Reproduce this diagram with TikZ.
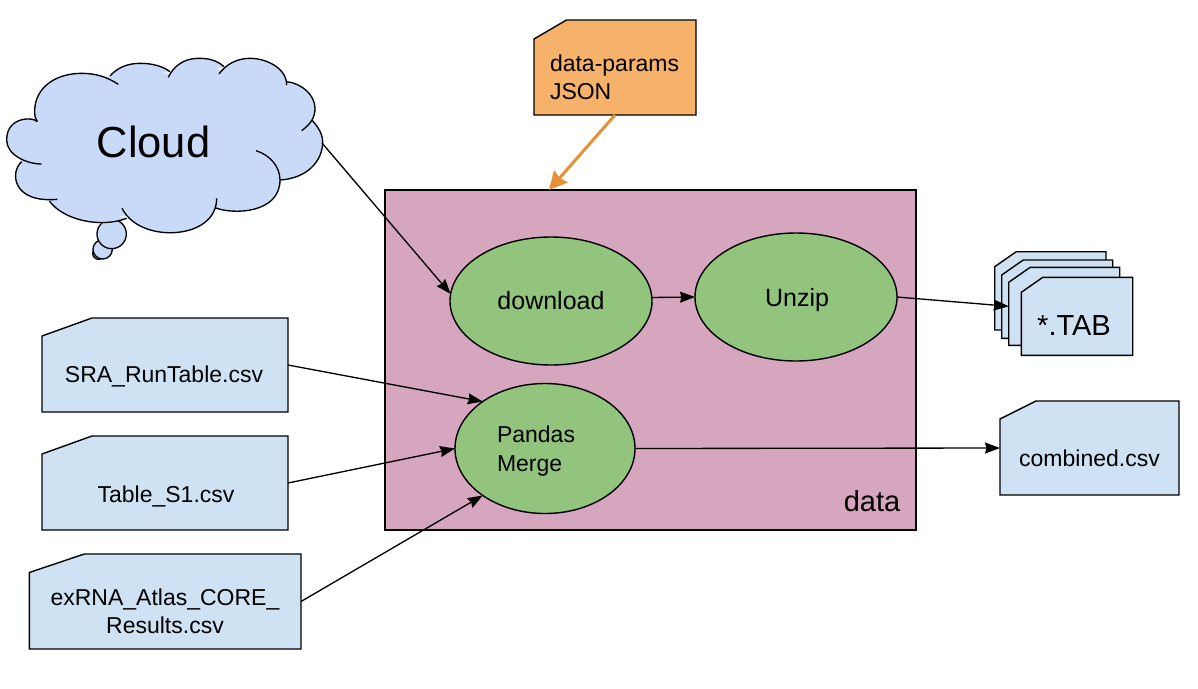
\documentclass[tikz,border=0pt]{standalone}
\usepackage{fontspec}
\setmainfont{Liberation Sans}
\usetikzlibrary{arrows.meta,shapes.geometric}
\definecolor{docblue}{HTML}{CFE2F3}
\definecolor{cloudblue}{HTML}{C9DAF8}
\definecolor{datapink}{HTML}{D5A6BD}
\definecolor{procgreen}{HTML}{93C47D}
\definecolor{paramorange}{HTML}{F6B26B}
\definecolor{arroworange}{HTML}{E69138}
\tikzset{
  outline/.style={draw=black,line width=1.4pt},
  flow/.style={draw=black,line width=1.33pt,-{Stealth[length=15pt,width=11pt,inset=1.5pt]}},
  paramflow/.style={draw=arroworange,line width=3pt,-{Stealth[length=18pt,width=18pt,inset=2pt]}},
  proc/.style={ellipse,outline,fill=procgreen,inner sep=0pt,outer sep=0pt},
  txt/.style={inner sep=0pt,outer sep=0pt,anchor=base,font=\fontsize{23}{28}\selectfont},
  boxanchor/.style={inner sep=0pt,outer sep=0pt,draw=none},
  cloudpatch/.style={fill=cloudblue,draw=cloudblue,line width=1pt}
}
% name x1 y1 x2 y2 cutx cuty fill
\newcommand{\docbox}[8]{%
  \filldraw[outline,fill=#8,line join=miter] (#2,#3+#7) -- (#2+#6,#3) -- (#4,#3) -- (#4,#5) -- (#2,#5) -- cycle;
  \node[boxanchor,minimum width=\dimexpr#4pt-#2pt\relax,minimum height=\dimexpr#5pt-#3pt\relax] (#1) at ({(#2+#4)/2},{(#3+#5)/2}) {};
}
\newcommand{\lobeFill}[1]{\filldraw[cloudpatch] #1 -- cycle;}
\newcommand{\lobeDraw}[1]{\draw[black,line width=1.33pt] #1;}
\newcommand{\cloudLobes}{%
  \lobeAct{(110,245) .. controls (108,232) and (20,225) .. (20,300) .. controls (20,345) and (80,372) .. (125,372)}%
  \lobeAct{(65,365) .. controls (30,395) and (35,490) .. (172,478)}%
  \lobeAct{(148,483) .. controls (190,540) and (300,565) .. (380,535)}%
  \lobeAct{(366,505) .. controls (400,570) and (480,580) .. (520,578) .. controls (590,575) and (650,540) .. (650,475)}%
  \lobeAct{(645,503) .. controls (700,525) and (840,520) .. (840,420) .. controls (840,380) and (810,345) .. (768,332)}%
  \lobeAct{(840,420) .. controls (920,415) and (968,365) .. (968,305) .. controls (968,280) and (950,255) .. (935,240)}%
  \lobeAct{(905,272) .. controls (935,250) and (945,230) .. (945,205) .. controls (945,165) and (905,130) .. (860,125)}%
  \lobeAct{(860,135) .. controls (860,85) and (800,55) .. (750,55) .. controls (715,55) and (680,70) .. (657,102)}%
  \lobeAct{(672,80) .. controls (650,60) and (625,55) .. (595,55) .. controls (550,55) and (520,80) .. (505,112)}%
  \lobeAct{(510,95) .. controls (490,80) and (460,70) .. (420,70) .. controls (380,70) and (350,85) .. (330,108)}%
  \lobeAct{(355,133) .. controls (320,110) and (285,100) .. (245,100) .. controls (160,100) and (95,150) .. (105,230) -- (112,245)}%
}
\begin{document}
\begin{tikzpicture}[x=1pt,y=-1pt]
\useasboundingbox (0,0) rectangle (1198,688);
\fill[white] (0,0) rectangle (1198,688);

% cloud
\begin{scope}[shift={(0,40)},x=0.33333pt,y=-0.33333pt]
  \filldraw[fill=cloudblue,draw=black,line width=1.33pt] (296,640) circle (18);
  \filldraw[fill=cloudblue,draw=black,line width=1.33pt] (308,628) circle (29);
  \filldraw[fill=cloudblue,draw=black,line width=1.33pt] (335,582) circle (44);
  \let\lobeAct\lobeFill \cloudLobes
  \filldraw[cloudpatch] (110,235) -- (40,300) -- (68,367) -- (70,440) -- (152,480) -- (260,530) -- (374,526) -- (500,560) -- (647,501) -- (780,490) -- (838,420) -- (930,340) -- (933,244) -- (910,170) -- (858,128) -- (760,70) -- (665,92) -- (590,70) -- (507,104) -- (420,85) -- (335,109) -- (200,125) -- cycle;
  \let\lobeAct\lobeDraw \cloudLobes
\end{scope}
\node[txt,font=\fontsize{43.5}{50}\selectfont] (cloudtext) at (153.5,157) {Cloud};
\coordinate (cloudport) at (322,143);

% container
\node[rectangle,outline,fill=datapink,inner sep=0pt,outer sep=0pt,minimum width=531pt,minimum height=340pt] (data) at (650.5,360) {};
\coordinate (dataport) at (549,190);
\node[txt,font=\fontsize{29}{34}\selectfont] (datalabel) at (872,511) {data};

% processes
\node[proc,minimum width=202pt,minimum height=128pt] (download) at (551,301) {};
\node[proc,minimum width=202pt,minimum height=128pt] (unzip) at (796,297) {};
\node[proc,minimum width=180pt,minimum height=130pt] (merge) at (545,448.5) {};
\node[txt,font=\fontsize{25}{30}\selectfont] (downloadtext) at (551,309) {download};
\node[txt,font=\fontsize{25}{30}\selectfont] (unziptext) at (797,306) {Unzip};
\node[txt,anchor=base west] (pandastext) at (497,442) {Pandas};
\node[txt,anchor=base west] (mergetext) at (497,471) {Merge};

% files
\docbox{params}{534}{20}{696}{115}{32.5}{19}{paramorange}
\node[txt,anchor=base west] (paramsa) at (550,71) {data-params};
\node[txt,anchor=base west] (paramsb) at (550,99) {JSON};
\docbox{sra}{42}{318}{288}{412}{50}{18}{docblue}
\node[txt] (sratext) at (164,382) {SRA\_RunTable.csv};
\docbox{tables}{42}{436}{288}{530}{50}{18}{docblue}
\node[txt] (tablestext) at (166,502) {Table\_S1.csv};
\docbox{exrna}{29.3}{554}{301}{649}{55}{18.5}{docblue}
\node[txt] (exrnaa) at (165,605) {exRNA\_Atlas\_CORE\_};
\node[txt] (exrnab) at (165,633) {Results.csv};
\docbox{combined}{1000}{401}{1179}{495}{36}{18}{docblue}
\node[txt] (combinedtext) at (1089.5,466) {combined.csv};
\docbox{taba}{994.7}{251.7}{1106}{330}{21.5}{15}{docblue}
\docbox{tabb}{1001.7}{260}{1112.7}{338.3}{21.5}{15}{docblue}
\docbox{tabc}{1008.7}{267.3}{1119.7}{345.3}{21.5}{15}{docblue}
\docbox{tabd}{1021.3}{277.3}{1132.7}{355.3}{21.5}{15}{docblue}
\node[txt,font=\fontsize{29}{34}\selectfont] (tabtext) at (1074,335) {*.TAB};

% connectors
\draw[flow] (cloudport) -- (download.176);
\draw[flow] (download.2) -- (unzip.west);
\draw[flow] (unzip.east) -- (tabc.west);
\draw[flow] (sra.east) -- (merge.143);
\draw[flow] (tables.east) -- (merge.west);
\draw[flow] (exrna.east) -- (merge.217);
\draw[flow] (merge.east) -- (combined.west);
\draw[paramflow] (params.south) -- (dataport);
\end{tikzpicture}
\end{document}
